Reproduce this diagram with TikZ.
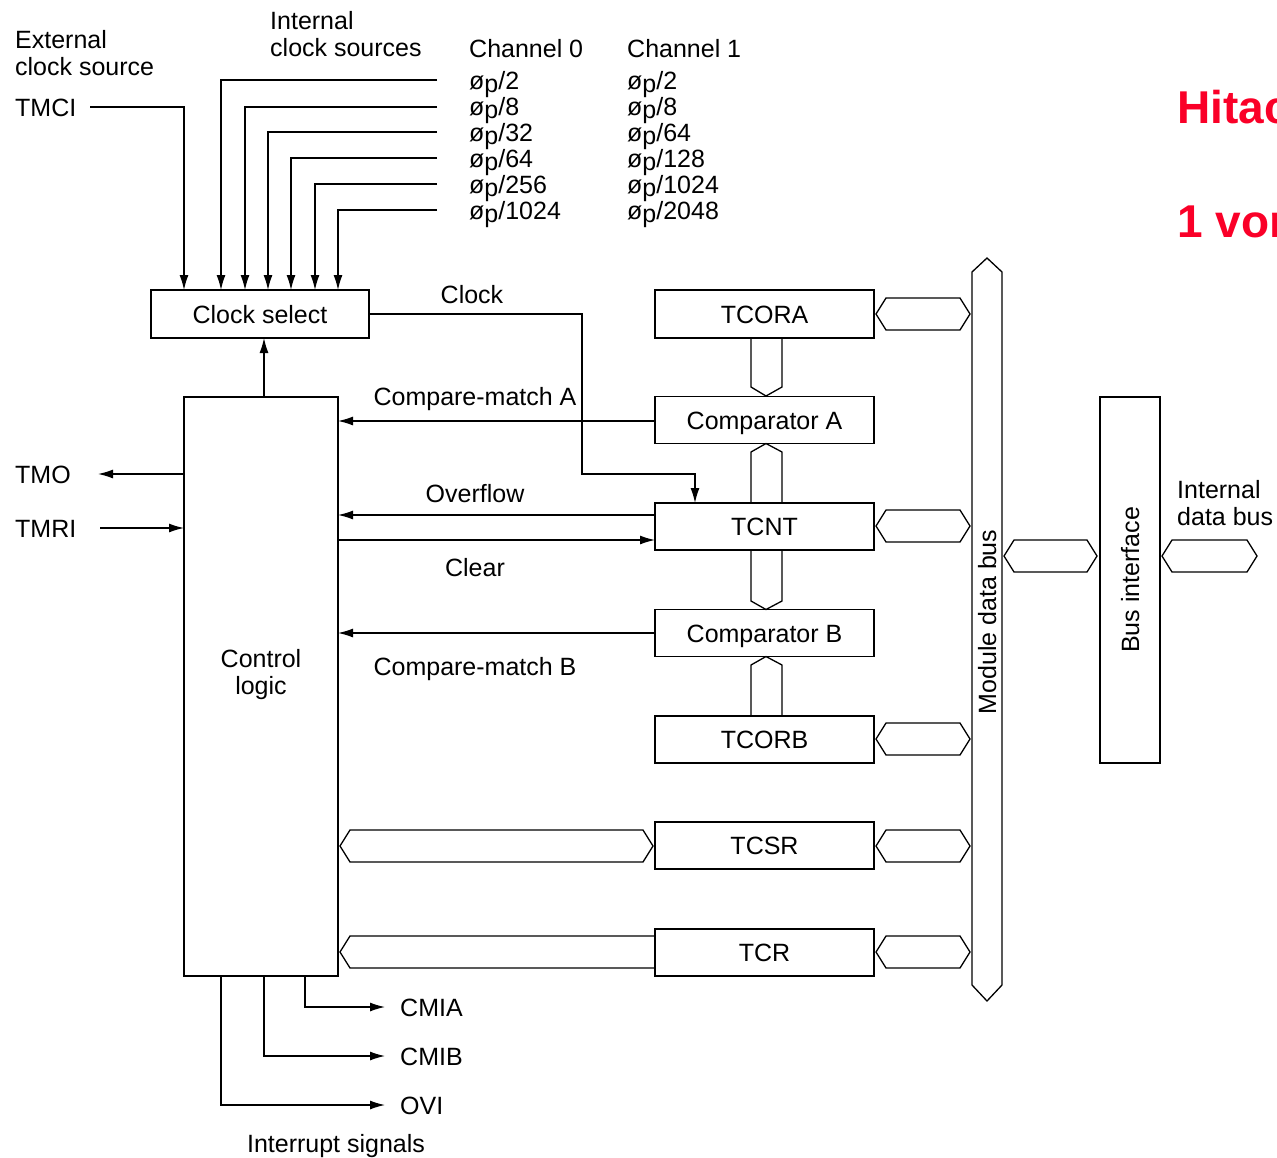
\documentclass[tikz,border=0pt]{standalone}
\usepackage{fontspec}
\setmainfont{Liberation Sans}
\usetikzlibrary{arrows.meta,calc}
\definecolor{hitred}{RGB}{250,0,40}
\newcommand\hexbus[3]{\draw[bus] (#1,#3) -- ({#1+10},{#3-16}) -- ({#2-10},{#3-16}) -- (#2,#3) -- ({#2-10},{#3+16}) -- ({#1+10},{#3+16}) -- cycle;}
\newcommand\phiP[1]{ø\raisebox{-0.3ex}{p}/#1}
\begin{document}
\begin{tikzpicture}[x=1pt,y=-1pt,
  every node/.style={font=\fontsize{25}{27}\selectfont, inner sep=0pt},
  capfit/.style={text height=18pt, text depth=0pt},
  box/.style={draw, line width=1.3pt, minimum width=219pt, minimum height=47pt, capfit},
  wire/.style={line width=1.3pt},
  arr/.style={wire, -{Latex[length=15pt,width=9pt]}},
  bus/.style={line width=1.3pt, line join=miter},
  lbl/.style={anchor=west, align=left}]
\useasboundingbox (0,0) rectangle (1277,1157);
\fill[white] (0,0) rectangle (1277,1157);

% boxes
\node[box, minimum width=218pt, minimum height=48pt] (cs) at (260,314) {Clock select};
\node[draw, line width=1.3pt, minimum width=154pt, minimum height=579pt] (cl) at (261,686.5) {};
\node[align=center] (cltext) at (261,675) {Control\\logic};
\node[box, minimum height=48pt] (tcora) at (764.5,314) {TCORA};
\node[box] (cmpa) at (764.5,420) {Comparator A};
\node[box] (tcnt) at (764.5,526.5) {TCNT};
\node[box] (cmpb) at (764.5,633) {Comparator B};
\node[box] (tcorb) at (764.5,739.5) {TCORB};
\node[box] (tcsr) at (764.5,845.5) {TCSR};
\node[box] (tcr) at (764.5,952.5) {TCR};
\node[draw, line width=1.3pt, minimum width=60pt, minimum height=366pt] (bi) at (1130,580) {};
\node[rotate=90, capfit] (bitext) at (1130,580) {Bus interface};

% module data bus
\draw[bus] (972,272) -- (987,258) -- (1002,272) -- (1002,985) -- (987,1001) -- (972,985) -- cycle;
\node[rotate=90, capfit] (mdb) at (987,622) {Module data bus};

% horizontal buses
\hexbus{876}{970}{314}
\hexbus{876}{970}{526}
\hexbus{876}{970}{739}
\hexbus{876}{970}{846}
\hexbus{876}{970}{952}
\hexbus{1004}{1097}{556}
\hexbus{1162}{1257}{556}
\hexbus{340}{653}{846}
\draw[bus] (655,936) -- (350,936) -- (340,952) -- (350,968) -- (655,968);

% vertical buses
\draw[bus] (751,338) -- (751,387) -- (766,396) -- (782,387) -- (782,338);
\draw[bus] (751,503) -- (751,452) -- (766,443.5) -- (782,452) -- (782,503);
\draw[bus] (751,550) -- (751,601) -- (766,609.5) -- (782,601) -- (782,550);
\draw[bus] (751,716) -- (751,665) -- (766,656.5) -- (782,665) -- (782,716);

% clock sources
\node[lbl] (ext) at (15,53.5) {External\\clock source};
\node[lbl, capfit] (tmci) at (15,107) {TMCI};
\node[lbl] (intl) at (270,34) {Internal\\clock sources};
\node[lbl, capfit] (ch0) at (469,48) {Channel 0};
\node[lbl, capfit] (ch1) at (627,48) {Channel 1};
\foreach \yy/\a/\b [count=\i] in {80/2/2,106/8/8,132/32/64,158/64/128,184/256/1024,210/1024/2048}{
  \node[lbl, capfit] (c0\i) at (469,\yy) {\phiP{\a}};
  \node[lbl, capfit] (c1\i) at (627,\yy) {\phiP{\b}};
}
\draw[arr] (90,107) -| (184,290);
\foreach \yy/\xx in {80/221,107/245,132/268,158/291,184/315,210/338}
  \draw[arr] (437,\yy) -| (\xx,290);

% clock to TCNT
\draw[arr] (cs.east) -- (582,314) -- (582,474) -- (695,474) -- (695,503);
\node[capfit] (clk) at (472,294) {Clock};
\draw[arr] (264,397) -- (264,338);

% control signals
\draw[arr] (655,421) -- (338,421);
\node[capfit] (cma) at (475,396) {Compare-match A};
\draw[arr] (655,515) -- (338,515);
\node[capfit] (ovf) at (475,493) {Overflow};
\draw[arr] (338,540) -- (655,540);
\node[capfit] (clr) at (475,567) {Clear};
\draw[arr] (655,633) -- (338,633);
\node[capfit] (cmb) at (475,666) {Compare-match B};

% TMO / TMRI
\node[lbl, capfit] (tmo) at (15,474) {TMO};
\node[lbl, capfit] (tmri) at (15,528) {TMRI};
\draw[arr] (184,474) -- (98,474);
\draw[arr] (100,528) -- (184,528);

% interrupts
\draw[arr] (305,976) |- (385,1007);
\draw[arr] (264,976) |- (385,1056);
\draw[arr] (221,976) |- (385,1105);
\node[lbl, capfit] (cmia) at (400,1007) {CMIA};
\node[lbl, capfit] (cmib) at (400,1056) {CMIB};
\node[lbl, capfit] (ovi) at (400,1105) {OVI};
\node[capfit] (irq) at (336,1143) {Interrupt signals};

\node[lbl] (idb) at (1177,503) {Internal\\data bus};

% red title (cut off at the right edge, as in the reference)
\begin{scope}
\clip (0,0) rectangle (1277,1157);
\node[lbl, text=hitred, font=\fontsize{46}{50}\selectfont\bfseries] (t1) at (1177,107) {Hitachi};
\node[lbl, text=hitred, font=\fontsize{46}{50}\selectfont\bfseries] (t2) at (1177,222) {1 von};
\end{scope}
\end{tikzpicture}
\end{document}
